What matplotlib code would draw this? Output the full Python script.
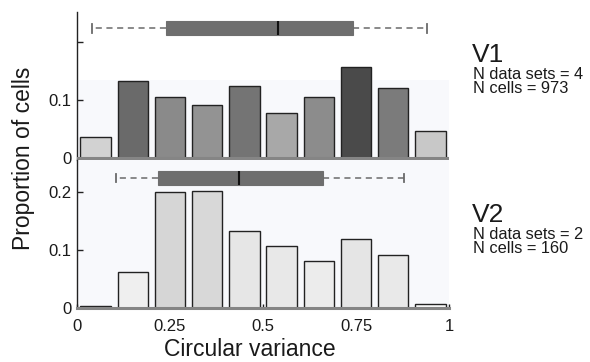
import numpy as np
import matplotlib
matplotlib.use("Agg")
import matplotlib.pyplot as plt
from matplotlib.patches import Rectangle

plt.rcParams['font.family'] = ['Liberation Sans', 'DejaVu Sans']

# ---- data ----
bin_centers = [0.05, 0.15, 0.25, 0.35, 0.45, 0.55, 0.65, 0.75, 0.85, 0.95]
v1_props = [0.037, 0.133, 0.105, 0.092, 0.125, 0.077, 0.106, 0.157, 0.121, 0.047]
v2_props = [0.003, 0.062, 0.199, 0.201, 0.132, 0.106, 0.081, 0.119, 0.091, 0.007]
v1_colors = ['#d2d2d2', '#6a6a6a', '#8a8a8a', '#939393', '#747474',
             '#a8a8a8', '#8c8c8c', '#4a4a4a', '#7b7b7b', '#c8c8c8']
v2_colors = ['#111111', '#efefef', '#d6d6d6', '#d8d8d8', '#e6e6e6',
             '#e8e8e8', '#ececec', '#e5e5e5', '#e9e9e9', '#fafafa']
# box stats: whislo, q1, med, q3, whishi
v1_box = [0.04, 0.24, 0.541, 0.742, 0.94]
v2_box = [0.105, 0.217, 0.436, 0.66, 0.88]
box_y = 0.224
xticks = [0, 0.25, 0.5, 0.75, 1]
xticklabels = ['0', '0.25', '0.5', '0.75', '1']
v1_info = ['V1', 'N data sets = 4', 'N cells = 973']
v2_info = ['V2', 'N data sets = 2', 'N cells = 160']

W, H = 590, 362
fig = plt.figure(figsize=(W / 100, H / 100), dpi=100)

left = 77 / W
width = 372 / W
ax1 = fig.add_axes([left, (H - 160) / H, width, 148 / H])
ax2 = fig.add_axes([left, (H - 307.7) / H, width, 147.7 / H])

bg = '#f8f9fc'
gray_axis = '#858585'
text_col = '#1a1a1a'

def draw_box(ax, stats):
    st = [dict(whislo=stats[0], q1=stats[1], med=stats[2], q3=stats[3],
               whishi=stats[4], fliers=[])]
    ax.bxp(st, positions=[box_y], widths=0.024, orientation='horizontal',
           patch_artist=True, showfliers=False, capwidths=0.015,
           boxprops=dict(facecolor='#6e6e6e', edgecolor='#6e6e6e', linewidth=0.8),
           whiskerprops=dict(color='#6a6a6a', linestyle=(0, (4, 3)), linewidth=1.1),
           capprops=dict(color='#6a6a6a', linewidth=1.3),
           medianprops=dict(color='#111111', linewidth=1.5),
           manage_ticks=False, zorder=3)

# top panel
ax1.set_xlim(0, 1)
ax1.set_ylim(-0.0035, 0.252)
ax1.add_patch(Rectangle((0, -0.0035), 1, 0.1375, facecolor=bg, edgecolor='none', zorder=0))
ax1.bar(bin_centers, v1_props, width=0.082, color=v1_colors, edgecolor='#222222',
        linewidth=1.0, zorder=2)
ax1.axhline(0, color=gray_axis, linewidth=2.2, zorder=3)
draw_box(ax1, v1_box)
ax1.set_yticks([0, 0.1, 0.2])
ax1.set_yticklabels(['0', '0.1', ''])
ax1.set_xticks([])
for s in ['top', 'right', 'bottom']:
    ax1.spines[s].set_visible(False)
ax1.spines['left'].set_color('#222222')
ax1.spines['left'].set_linewidth(1.0)
ax1.tick_params(axis='y', direction='in', length=4, width=1, pad=4,
                labelsize=12, labelcolor=text_col, color='#222222')

# bottom panel
ax2.set_xlim(0, 1)
ax2.set_ylim(0, 0.255)
ax2.set_facecolor(bg)
ax2.bar(bin_centers, v2_props, width=0.082, color=v2_colors, edgecolor='#222222',
        linewidth=1.0, zorder=2)
draw_box(ax2, v2_box)
ax2.set_yticks([0, 0.1, 0.2])
ax2.set_yticklabels(['0', '0.1', '0.2'])
ax2.set_xticks(xticks)
ax2.set_xticklabels(xticklabels)
for s in ['top', 'right']:
    ax2.spines[s].set_visible(False)
ax2.spines['left'].set_color('#222222')
ax2.spines['left'].set_linewidth(1.0)
ax2.spines['bottom'].set_color(gray_axis)
ax2.spines['bottom'].set_linewidth(2.2)
ax2.spines['bottom'].set_zorder(3)
ax2.tick_params(axis='y', direction='in', length=4, width=1, pad=4,
                labelsize=12, labelcolor=text_col, color='#222222')
ax2.tick_params(axis='x', direction='in', length=3, width=1, pad=8,
                labelsize=12, labelcolor=text_col, color='#222222')

# labels
fig.text(24 / W, 1 - 158 / H, 'Proportion of cells', rotation=90, ha='center',
         va='center', fontsize=16.5, color=text_col)
fig.text(250 / W, 1.5 / H, 'Circular variance', ha='center', va='bottom',
         fontsize=16.5, color=text_col)

def info(lines, base_y):
    fig.text(472 / W, 1 - base_y / H, lines[0], ha='left', va='baseline',
             fontsize=19, color=text_col)
    fig.text(473 / W, 1 - (base_y + 5) / H, lines[1] + '\n' + lines[2],
             ha='left', va='top', fontsize=11.8, color=text_col,
             linespacing=0.88)

info(v1_info, 62)
info(v2_info, 222)

fig.savefig('out.png', dpi=100)
